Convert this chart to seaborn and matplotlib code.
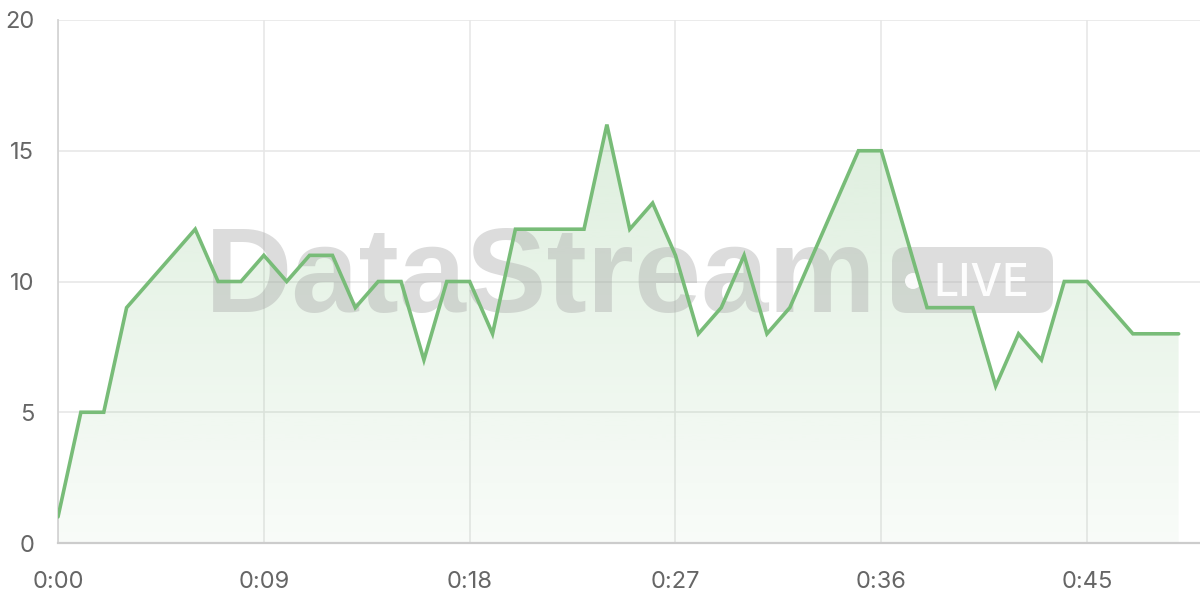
import numpy as np
import pandas as pd
import matplotlib
matplotlib.use("Agg")
import matplotlib.pyplot as plt
from matplotlib.patches import FancyBboxPatch, Circle
import seaborn as sns

# ---- data ----
seconds = list(range(50))
values = [1, 5, 5, 9, 10, 11, 12, 10, 10, 11,
          10, 11, 11, 9, 10, 10, 7, 10, 10, 8,
          12, 12, 12, 12, 16, 12, 13, 11, 8, 9,
          11, 8, 9, 11, 13, 15, 15, 12, 9, 9,
          9, 6, 8, 7, 10, 10, 9, 8, 8, 8]
x_ticks = [0, 9, 18, 27, 36, 45]
x_tick_labels = ["0:00", "0:09", "0:18", "0:27", "0:36", "0:45"]
y_ticks = [0, 5, 10, 15, 20]
y_tick_labels = ["0", "5", "10", "15", "20"]
watermark = "DataStream"
badge = "LIVE"

df = pd.DataFrame({"t": seconds, "v": values})

sns.set_theme(style="white")
plt.rcParams["font.family"] = ["Inter", "DejaVu Sans"]

W, H = 1200, 600
fig = plt.figure(figsize=(12, 6), dpi=100)
fig.patch.set_facecolor("white")

def fx(px):
    return px / W

def fy(py):
    return 1 - py / H

left, right, top, bottom = 58, 1200, 20, 543
ax = fig.add_axes([fx(left), fy(bottom), fx(right - left), (bottom - top) / H])
ax.set_facecolor("white")

line_color = "#78bc78"
green_rgb = np.array([123, 191, 123]) / 255.0

# gradient fill under the line
poly = ax.fill_between(df["t"], df["v"], 0, color="none", lw=0, zorder=1)
n = 256
grad = np.zeros((n, 1, 4))
grad[:, 0, :3] = green_rgb
grad[:, 0, 3] = np.linspace(0.05, 0.30, n)
im = ax.imshow(grad, extent=[df["t"].min(), df["t"].max(), 0, 20], origin="lower",
               aspect="auto", zorder=1, interpolation="bilinear")
im.set_clip_path(poly.get_paths()[0], transform=ax.transData)

# line
sns.lineplot(data=df, x="t", y="v", ax=ax, color=line_color, linewidth=2.6,
             zorder=3, solid_joinstyle="miter")

# axes styling
ax.set_xlim(0, (right - left) / 22.87)
ax.set_ylim(0, 20)
ax.set_xticks(x_ticks)
ax.set_xticklabels(x_tick_labels)
ax.set_yticks(y_ticks)
ax.set_yticklabels(y_tick_labels)
ax.set_xlabel("")
ax.set_ylabel("")
grid_c = "#e6e6e6"
ax.grid(True, color=grid_c, linewidth=1.1, zorder=0)
ax.set_axisbelow(True)
for s in ["top", "right"]:
    ax.spines[s].set_visible(False)
ax.spines["left"].set_color("#d4d4d4")
ax.spines["left"].set_linewidth(1.3)
ax.spines["bottom"].set_color("#cccccc")
ax.spines["bottom"].set_linewidth(1.6)
ax.tick_params(axis="both", which="major", length=11, width=1.1, color=grid_c,
               labelcolor="#666666", labelsize=17)
ax.tick_params(axis="y", pad=6)
ax.tick_params(axis="x", pad=9)

# watermark
ax.text(fx(205), fy(312), watermark, transform=fig.transFigure, ha="left", va="baseline",
        fontsize=87, fontweight="bold", family=["Liberation Sans", "DejaVu Sans"],
        color="#a8a8a8", alpha=0.40, zorder=2, clip_on=False)

bx0, by0, bx1, by1 = 892, 247, 1053, 313
r = 15
box = FancyBboxPatch((bx0 + r, H - by1 + r), (bx1 - bx0) - 2 * r, (by1 - by0) - 2 * r,
                     boxstyle=f"round,pad={r}", transform=None,
                     facecolor="#a8a8a8", edgecolor="none", alpha=0.38, zorder=2,
                     clip_on=False)
ax.add_artist(box)
dot = Circle((913, H - 281), 8, transform=None, facecolor="white", edgecolor="none",
             alpha=0.9, zorder=2.1, clip_on=False)
ax.add_artist(dot)
ax.text(fx(933), fy(296), badge, transform=fig.transFigure, ha="left", va="baseline",
        fontsize=32, fontweight="medium", color="white", alpha=0.95, zorder=2.1,
        clip_on=False)

fig.savefig("out.png", dpi=100, facecolor="white")
